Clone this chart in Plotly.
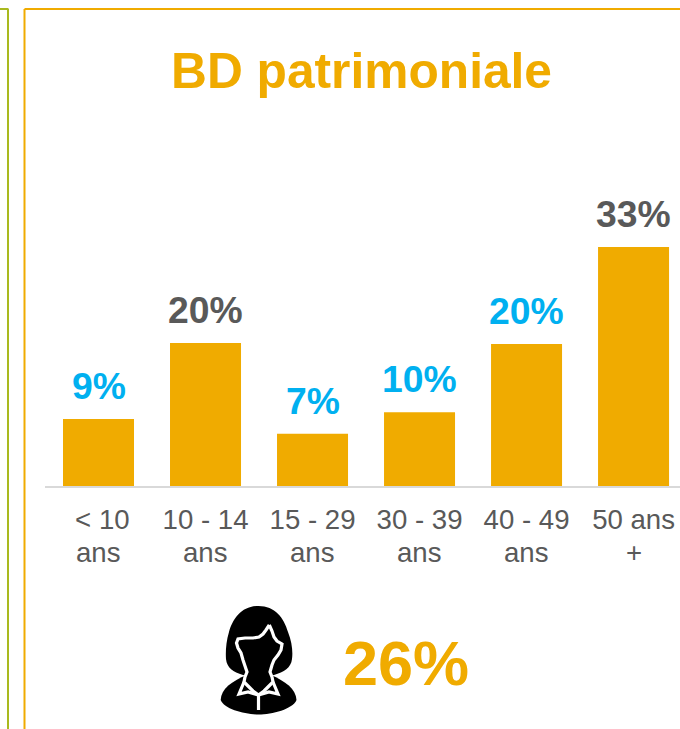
import plotly.graph_objects as go

W, H = 680, 729
categories = ["< 10 ans", "10 - 14 ans", "15 - 29 ans", "30 - 39 ans", "40 - 49 ans", "50 ans +"]
tick_line1 = ["&#160;&lt; 10", "10 - 14", "15 - 29", "30 - 39", "40 - 49", "50 ans"]
tick_line2 = ["ans", "ans", "ans", "ans", "ans", "+"]
values = [9.25, 19.75, 7.2, 10.2, 19.6, 33]
labels = ["9%", "20%", "7%", "10%", "20%", "33%"]
label_colors = ["#00B0F0", "#595959", "#00B0F0", "#00B0F0", "#00B0F0", "#595959"]
title = "BD patrimoniale"
share = "26%"

ORANGE = "#F0AB00"
GREEN = "#A9B91E"
GREY = "#595959"
FONT = "Liberation Sans"

def px(x): return x / W
def py(y): return 1 - y / H
def pt(p): return f"{px(p[0]):.5f},{py(p[1]):.5f}"

def curve(start, pts, close=True):
    s = "M" + pt(start)
    for i in range(0, len(pts), 3):
        s += " C" + " ".join(pt(p) for p in pts[i:i + 3])
    return s + (" Z" if close else "")

def poly(points):
    return "M" + pt(points[0]) + "".join(" L" + pt(p) for p in points[1:])

# icon outlines (page pixels)
hair = curve((258.5, 606), [(242, 606), (233, 618), (229, 632), (226, 642), (225.5, 652), (226, 659),
                            (227, 668), (233, 672), (243, 675), (250, 677), (267, 677), (274, 675),
                            (284, 672), (291, 668), (292, 659), (293, 652), (292, 642), (288, 632),
                            (284, 618), (275, 606), (258.5, 606)])
body = curve((246.7, 675), [(232, 681), (221, 689), (220.7, 700), (224, 709), (245, 714.5), (258.5, 714.5),
                            (272, 714.5), (293, 709), (296.5, 700), (296, 689), (285, 681), (271, 675)])
head = poly([(269.3, 625), (266, 630), (263, 634), (259, 637), (253, 638), (245, 638), (238, 639), (236.5, 643),
             (238, 648), (241, 653), (243, 660), (245, 666), (247, 672), (245, 677), (244, 682),
             (248, 686), (253, 691), (258.5, 695), (264, 691), (269, 686), (273, 682), (272, 677),
             (270, 672), (272, 665), (274, 660), (278, 655), (281, 650), (282, 644), (277, 641), (274, 637), (272, 631), (269.3, 625)])
collar_l = poly([(244, 682), (239, 694), (248, 692), (258.5, 695)])
collar_r = poly([(273, 682), (278, 694), (269, 692), (258.5, 695)])
tie = poly([(258.5, 695), (258.5, 710)])

def frame(x0, x1, y0, y1, color):
    return dict(type="line", xref="paper", yref="paper", x0=px(x0), x1=px(x1), y0=py(y0), y1=py(y1),
                line=dict(color=color, width=2))

def stroke(p):
    return dict(type="path", xref="paper", yref="paper", path=p, fillcolor="rgba(0,0,0,0)",
                line=dict(color="#FFFFFF", width=3.2))

shapes = [
    frame(-5, 8.5, 9, 9, GREEN), frame(8, 8, 9, 735, GREEN),
    frame(24.5, 690, 9, 9, ORANGE), frame(24.5, 24.5, 9, 735, ORANGE),
    dict(type="path", xref="paper", yref="paper", path=hair, fillcolor="#000000", line=dict(width=0)),
    dict(type="path", xref="paper", yref="paper", path=body, fillcolor="#000000", line=dict(width=0)),
    stroke(head), stroke(collar_l), stroke(collar_r), stroke(tie),
]

annotations = [
    dict(x=c, y=v, xref="x", yref="y", text=f"<b>{t}</b>", showarrow=False, yanchor="bottom", yshift=10,
         font=dict(family=FONT, size=37.3, color=col))
    for c, v, t, col in zip(categories, values, labels, label_colors)
]
annotations += [
    dict(x=c, y=py(552), xref="x", yref="paper", text=t, showarrow=False, yanchor="middle",
         font=dict(family=FONT, size=27.6, color=GREY))
    for c, t in zip(categories, tick_line2)
]
annotations += [
    dict(x=px(361.5), y=py(71), xref="paper", yref="paper", text=f"<b>{title}</b>", showarrow=False, yanchor="middle",
         font=dict(family=FONT, size=49.7, color=ORANGE)),
    dict(x=px(405.5), y=py(663), xref="paper", yref="paper", text=f"<b>{share}</b>", showarrow=False, yanchor="middle",
         font=dict(family=FONT, size=63, color=ORANGE)),
]

fig = go.Figure(go.Bar(x=categories, y=values, marker=dict(color=ORANGE, line=dict(width=0)), width=71 / 107, hoverinfo="skip"))
fig.update_layout(
    width=W, height=H, autosize=False, margin=dict(l=0, r=0, t=0, b=0, pad=0),
    paper_bgcolor="#FFFFFF", plot_bgcolor="#FFFFFF", showlegend=False,
    shapes=shapes, annotations=annotations,
    xaxis=dict(domain=[px(45), 1], range=[-0.5, 5.434], showgrid=False, showline=True, linecolor="#D9D9D9", linewidth=2,
               ticks="", tickangle=0, tickmode="array", tickvals=categories, ticktext=tick_line1, ticklabelstandoff=8,
               tickfont=dict(family=FONT, size=27.6, color=GREY)),
    yaxis=dict(domain=[py(486), 1], range=[0, 486 / 7.24], visible=False, fixedrange=True),
)
fig.write_html("out.html", config=dict(displayModeBar=False), post_script="document.body.style.margin='0';")
